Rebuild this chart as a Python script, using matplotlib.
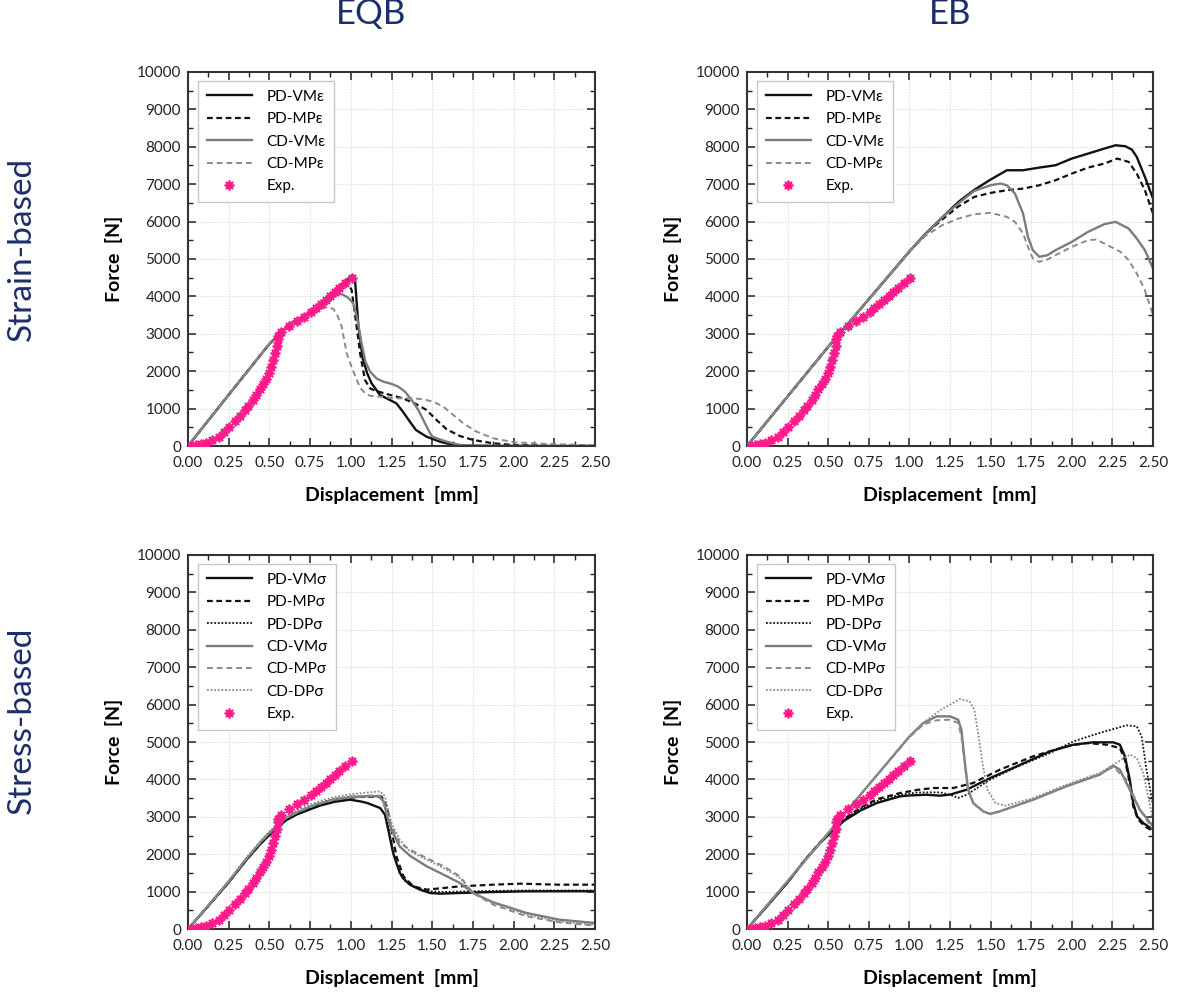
import matplotlib
matplotlib.use("Agg")
import matplotlib.pyplot as plt
from matplotlib.ticker import MultipleLocator

plt.rcParams['font.family'] = ['Lato', 'DejaVu Sans']

# ---------------- Experimental data (same in all panels) ----------------
exp_x = [0.02, 0.05, 0.08, 0.11, 0.15, 0.19, 0.22, 0.25, 0.29, 0.32,
         0.35, 0.37, 0.40, 0.42, 0.44, 0.46, 0.48, 0.50, 0.51, 0.525,
         0.535, 0.545, 0.55, 0.555, 0.57, 0.62, 0.67, 0.715, 0.755, 0.785,
         0.815, 0.845, 0.875, 0.90, 0.93, 0.965, 1.005]
exp_y = [10, 25, 45, 80, 150, 250, 370, 500, 660, 800,
         950, 1080, 1220, 1370, 1520, 1660, 1800, 1960, 2120, 2300,
         2480, 2680, 2850, 2950, 3040, 3220, 3330, 3460, 3590, 3690,
         3790, 3900, 4020, 4120, 4230, 4350, 4490]

# ---------------- EQB, strain-based ----------------
eqb_eps_pdvm_x = [0, 0.25, 0.5, 0.63, 0.75, 0.85, 0.95, 1.0, 1.012, 1.026,
                  1.047, 1.073, 1.1, 1.128, 1.179, 1.24, 1.28, 1.32, 1.363, 1.4,
                  1.465, 1.547, 1.63, 1.75, 2.0, 2.5]
eqb_eps_pdvm_y = [0, 1370, 2730, 3280, 3560, 3920, 4330, 4545, 4555, 4440,
                  3190, 2350, 1950, 1676, 1364, 1230, 1140, 918, 650, 428,
                  250, 116, 27, 5, 0, 0]
eqb_eps_pdmp_x = [0, 0.25, 0.5, 0.63, 0.75, 0.85, 0.93, 0.965, 0.99, 1.005,
                  1.02, 1.036, 1.057, 1.087, 1.118, 1.15, 1.22, 1.32, 1.4, 1.465,
                  1.527, 1.589, 1.67, 1.753, 1.876, 2.0, 2.2, 2.5]
eqb_eps_pdmp_y = [0, 1370, 2730, 3280, 3560, 3900, 4210, 4300, 4290, 4171,
                  3700, 3190, 2478, 1765, 1540, 1480, 1390, 1275, 1123, 963,
                  695, 446, 267, 160, 71, 27, 10, 0]
eqb_eps_cdvm_x = [0, 0.25, 0.5, 0.63, 0.75, 0.85, 0.913, 0.95, 0.985, 1.015,
                  1.04, 1.066, 1.09, 1.12, 1.16, 1.2, 1.252, 1.292, 1.333, 1.374,
                  1.415, 1.466, 1.497, 1.527, 1.589, 1.671, 1.8, 2.5]
eqb_eps_cdvm_y = [0, 1370, 2730, 3280, 3550, 3860, 4083, 4050, 3960, 3815,
                  3400, 2750, 2250, 1980, 1800, 1720, 1658, 1586, 1453, 1230,
                  963, 517, 267, 205, 116, 27, 5, 0]
eqb_eps_cdmp_x = [0, 0.25, 0.5, 0.63, 0.75, 0.8, 0.862, 0.89, 0.913, 0.944,
                  0.975, 1.01, 1.057, 1.09, 1.12, 1.18, 1.28, 1.384, 1.445, 1.507,
                  1.568, 1.63, 1.691, 1.773, 1.876, 2.0, 2.2, 2.5]
eqb_eps_cdmp_y = [0, 1370, 2730, 3280, 3540, 3650, 3725, 3670, 3548, 3190,
                  2478, 2050, 1560, 1400, 1340, 1319, 1275, 1275, 1248, 1185,
                  1052, 829, 606, 383, 205, 100, 55, 20]

# ---------------- EB, strain-based ----------------
eb_eps_pdvm_x = [0, 0.5, 1.0, 1.1, 1.2, 1.3, 1.4, 1.5, 1.6, 1.7,
                 1.8, 1.9, 2.0, 2.1, 2.2, 2.27, 2.33, 2.37, 2.4, 2.45, 2.5]
eb_eps_pdvm_y = [0, 2650, 5200, 5680, 6100, 6520, 6850, 7124, 7373, 7373,
                 7444, 7507, 7685, 7818, 7952, 8041, 8014, 7925, 7730, 7195, 6616]
eb_eps_pdmp_x = [0, 0.5, 1.0, 1.1, 1.2, 1.3, 1.4, 1.5, 1.6, 1.7,
                 1.8, 1.9, 2.0, 2.1, 2.2, 2.28, 2.35, 2.4, 2.45, 2.5]
eb_eps_pdmp_y = [0, 2650, 5200, 5680, 6050, 6400, 6661, 6768, 6839, 6883,
                 6972, 7106, 7284, 7444, 7551, 7685, 7596, 7284, 6839, 6216]
eb_eps_cdvm_x = [0, 0.5, 1.0, 1.1, 1.2, 1.3, 1.4, 1.5, 1.56, 1.6,
                 1.65, 1.7, 1.73, 1.76, 1.8, 1.85, 1.9, 2.0, 2.1, 2.2,
                 2.27, 2.35, 2.4, 2.45, 2.5]
eb_eps_cdvm_y = [0, 2650, 5200, 5680, 6100, 6480, 6821, 6972, 7017, 6972,
                 6750, 6216, 5592, 5236, 5058, 5102, 5236, 5459, 5726, 5931,
                 5993, 5815, 5548, 5236, 4746]
eb_eps_cdmp_x = [0, 0.5, 1.0, 1.1, 1.2, 1.3, 1.4, 1.5, 1.6, 1.65,
                 1.7, 1.73, 1.76, 1.8, 1.85, 1.9, 2.0, 2.1, 2.15, 2.2,
                 2.3, 2.35, 2.4, 2.45, 2.5]
eb_eps_cdmp_y = [0, 2650, 5200, 5620, 5900, 6080, 6198, 6233, 6126, 5993,
                 5681, 5325, 5014, 4924, 4987, 5102, 5325, 5503, 5521, 5414,
                 5191, 4969, 4613, 4167, 3500]

# ---------------- EQB, stress-based ----------------
eqb_sig_pdvm_x = [0, 0.125, 0.25, 0.359, 0.45, 0.502, 0.6, 0.666, 0.75, 0.81,
                  0.9, 0.994, 1.057, 1.1, 1.18, 1.21, 1.23, 1.26, 1.28, 1.302,
                  1.32, 1.363, 1.425, 1.487, 1.548, 1.67, 1.875, 2.08, 2.5]
eqb_sig_pdvm_y = [0, 620, 1250, 1850, 2300, 2520, 2900, 3057, 3200, 3298,
                  3400, 3458, 3414, 3370, 3235, 3057, 2656, 2032, 1765, 1497,
                  1364, 1185, 1052, 963, 945, 963, 989, 1007, 1010]
eqb_sig_pdmp_x = [0, 0.125, 0.25, 0.359, 0.45, 0.502, 0.6, 0.666, 0.75, 0.81,
                  0.9, 1.0, 1.057, 1.12, 1.19, 1.22, 1.25, 1.28, 1.323, 1.384,
                  1.466, 1.568, 1.67, 1.875, 2.04, 2.28, 2.5]
eqb_sig_pdmp_y = [0, 620, 1250, 1850, 2300, 2540, 2920, 3080, 3230, 3330,
                  3440, 3510, 3530, 3535, 3530, 3280, 2656, 1943, 1408, 1141,
                  1052, 1096, 1141, 1185, 1212, 1185, 1185]
eqb_sig_pddp_x = [0, 0.125, 0.25, 0.359, 0.45, 0.502, 0.6, 0.666, 0.75, 0.81,
                  0.9, 1.0, 1.1, 1.19, 1.215, 1.24, 1.27, 1.3, 1.34, 1.4,
                  1.48, 1.55, 1.67, 1.875, 2.08, 2.5]
eqb_sig_pddp_y = [0, 620, 1250, 1860, 2320, 2560, 2950, 3110, 3270, 3370,
                  3480, 3540, 3560, 3550, 3200, 2500, 1900, 1500, 1250, 1100,
                  1010, 990, 1000, 1020, 1030, 1030]
eqb_sig_cdvm_x = [0, 0.125, 0.25, 0.359, 0.45, 0.502, 0.6, 0.666, 0.75, 0.81,
                  0.9, 1.0, 1.1, 1.17, 1.2, 1.225, 1.25, 1.30, 1.363, 1.466,
                  1.57, 1.67, 1.75, 1.875, 2.08, 2.28, 2.5]
eqb_sig_cdvm_y = [0, 630, 1270, 1880, 2340, 2580, 2960, 3110, 3270, 3360,
                  3460, 3520, 3550, 3550, 3420, 3000, 2656, 2208, 1960, 1676,
                  1453, 1230, 963, 713, 428, 250, 160]
eqb_sig_cdmp_x = [0, 0.125, 0.25, 0.359, 0.45, 0.502, 0.6, 0.666, 0.75, 0.81,
                  0.9, 1.0, 1.1, 1.17, 1.2, 1.225, 1.25, 1.30, 1.363, 1.466,
                  1.57, 1.67, 1.75, 1.875, 2.08, 2.28, 2.5]
eqb_sig_cdmp_y = [0, 630, 1270, 1880, 2340, 2580, 2960, 3110, 3270, 3360,
                  3470, 3540, 3570, 3570, 3450, 3050, 2745, 2300, 2121, 1898,
                  1676, 1408, 963, 650, 339, 178, 89]
eqb_sig_cddp_x = [0, 0.125, 0.25, 0.359, 0.45, 0.502, 0.6, 0.666, 0.75, 0.81,
                  0.9, 1.0, 1.1, 1.18, 1.21, 1.235, 1.25, 1.30, 1.363, 1.466,
                  1.57, 1.67, 1.75, 1.875, 2.08, 2.28, 2.5]
eqb_sig_cddp_y = [0, 640, 1290, 1910, 2380, 2620, 3010, 3170, 3330, 3420,
                  3530, 3600, 3650, 3681, 3547, 3100, 2834, 2389, 2077, 1854,
                  1631, 1364, 963, 695, 383, 205, 116]

# ---------------- EB, stress-based ----------------
eb_sig_pdvm_x = [0, 0.125, 0.25, 0.359, 0.45, 0.502, 0.6, 0.7, 0.8, 0.942,
                 1.0, 1.1, 1.188, 1.25, 1.353, 1.497, 1.661, 1.866, 2.01, 2.13,
                 2.255, 2.296, 2.327, 2.357, 2.378, 2.402, 2.44, 2.5]
eb_sig_pdvm_y = [0, 620, 1250, 1850, 2300, 2520, 2900, 3170, 3370, 3547,
                 3570, 3590, 3565, 3592, 3725, 4037, 4349, 4750, 4929, 4991,
                 4991, 4929, 4617, 3993, 3369, 3012, 2834, 2656]
eb_sig_pdmp_x = [0, 0.125, 0.25, 0.359, 0.45, 0.502, 0.6, 0.7, 0.8, 0.942,
                 1.05, 1.147, 1.27, 1.393, 1.557, 1.762, 1.967, 2.09, 2.213, 2.296,
                 2.327, 2.357, 2.378, 2.409, 2.45, 2.5]
eb_sig_pdmp_y = [0, 620, 1250, 1860, 2320, 2550, 2950, 3250, 3470, 3636,
                 3720, 3770, 3770, 3904, 4260, 4617, 4884, 4973, 4929, 4840,
                 4528, 3904, 3280, 2923, 2745, 2611]
eb_sig_pddp_x = [0, 0.125, 0.25, 0.359, 0.45, 0.502, 0.6, 0.7, 0.8, 0.942,
                 1.05, 1.188, 1.25, 1.30, 1.353, 1.497, 1.661, 1.866, 2.01, 2.17,
                 2.337, 2.4, 2.43, 2.46, 2.5]
eb_sig_pddp_y = [0, 620, 1250, 1860, 2320, 2540, 2930, 3220, 3420, 3592,
                 3650, 3654, 3592, 3503, 3592, 3993, 4332, 4706, 5018, 5241,
                 5446, 5419, 5152, 4260, 3300]
eb_sig_cdvm_x = [0, 0.25, 0.5, 0.75, 1.0, 1.086, 1.168, 1.25, 1.30, 1.32,
                 1.342, 1.362, 1.393, 1.455, 1.497, 1.557, 1.763, 1.967, 2.172, 2.255,
                 2.296, 2.357, 2.419, 2.5]
eb_sig_cdvm_y = [0, 1280, 2565, 3856, 5147, 5508, 5686, 5686, 5597, 5330,
                 4439, 3725, 3369, 3146, 3075, 3146, 3458, 3815, 4127, 4367,
                 4260, 3725, 3191, 2745]
eb_sig_cdmp_x = [0, 0.25, 0.5, 0.75, 1.0, 1.086, 1.168, 1.25, 1.30, 1.32,
                 1.342, 1.362, 1.393, 1.455, 1.497, 1.557, 1.763, 1.967, 2.172, 2.255,
                 2.337, 2.419, 2.5]
eb_sig_cdmp_y = [0, 1280, 2565, 3850, 5130, 5470, 5580, 5597, 5508, 5152,
                 4349, 3700, 3350, 3140, 3080, 3150, 3470, 3830, 4150, 4332,
                 3993, 3191, 2656]
eb_sig_cddp_x = [0, 0.25, 0.5, 0.75, 1.0, 1.1, 1.2, 1.25, 1.31, 1.37,
                 1.40, 1.42, 1.45, 1.48, 1.53, 1.59, 1.763, 1.967, 2.172, 2.357,
                 2.4, 2.44, 2.47, 2.5]
eb_sig_cddp_y = [0, 1280, 2565, 3856, 5147, 5560, 5880, 5998, 6150, 6087,
                 5864, 5330, 4439, 3725, 3369, 3298, 3503, 3859, 4171, 4661,
                 4572, 4171, 3547, 2923]

# ---------------- text ----------------
col_titles = ["EQB", "EB"]
row_titles = ["Strain-based", "Stress-based"]
x_label = "Displacement  [mm]"
y_label = "Force  [N]"
x_ticks = [0.00, 0.25, 0.50, 0.75, 1.00, 1.25, 1.50, 1.75, 2.00, 2.25, 2.50]
y_ticks = [0, 1000, 2000, 3000, 4000, 5000, 6000, 7000, 8000, 9000, 10000]

strain_labels = ["PD-VM\u03b5", "PD-MP\u03b5", "CD-VM\u03b5", "CD-MP\u03b5"]
stress_labels = ["PD-VM\u03c3", "PD-MP\u03c3", "PD-DP\u03c3",
                 "CD-VM\u03c3", "CD-MP\u03c3", "CD-DP\u03c3"]

BLACK = '#111111'
GRAY = '#7c7c7c'
GRAY2 = '#8a8a8a'
PINK = '#ff1a8c'
NAVY = '#1c2d6b'

styles = {
    'PD-VM': dict(color=BLACK, lw=1.7, ls='-'),
    'PD-MP': dict(color=BLACK, lw=1.6, ls=(0, (2.6, 1.6))),
    'PD-DP': dict(color=BLACK, lw=1.3, ls=(0, (1, 1))),
    'CD-VM': dict(color=GRAY, lw=1.7, ls='-'),
    'CD-MP': dict(color=GRAY2, lw=1.4, ls=(0, (3, 2))),
    'CD-DP': dict(color=GRAY2, lw=1.3, ls=(0, (1, 1))),
}

fig = plt.figure(figsize=(11.84, 9.96), dpi=100)
W, H = 1184, 996

def make_ax(left_px, top_px, right_px, bottom_px):
    return fig.add_axes([left_px / W, 1 - bottom_px / H,
                         (right_px - left_px) / W, (bottom_px - top_px) / H])

def style_ax(ax):
    ax.set_xlim(0, 2.5)
    ax.set_ylim(0, 10000)
    ax.set_xticks(x_ticks)
    ax.set_xticklabels([f"{v:.2f}" for v in x_ticks])
    ax.set_yticks(y_ticks)
    ax.set_yticklabels([str(v) for v in y_ticks])
    ax.xaxis.set_minor_locator(MultipleLocator(0.125))
    ax.yaxis.set_minor_locator(MultipleLocator(500))
    ax.tick_params(which='both', direction='in', top=True, right=True,
                   labelsize=11, colors='#222222')
    ax.tick_params(which='major', length=6, width=1.1)
    ax.tick_params(which='minor', length=3.5, width=1.0)
    ax.tick_params(axis='x', pad=7)
    ax.tick_params(axis='y', pad=5)
    for sp in ax.spines.values():
        sp.set_linewidth(1.5)
        sp.set_color('#333333')
    ax.grid(True, which='major', color='#dcdcdc', linestyle=(0, (1.5, 1.5)), lw=0.7)
    ax.set_axisbelow(True)
    ax.set_xlabel(x_label, fontsize=14, fontweight='bold', labelpad=12)
    ax.set_ylabel(y_label, fontsize=14, fontweight='bold', labelpad=10)

def add_exp(ax):
    ax.plot(exp_x, exp_y, linestyle='none', marker=(8, 2, 0), markersize=7,
            markeredgewidth=1.3, color=PINK, label='Exp.', zorder=6)

def add_legend(ax):
    leg = ax.legend(loc='upper left', bbox_to_anchor=(0.025, 0.975),
                    borderaxespad=0, fontsize=11, handlelength=3.0,
                    handletextpad=0.9, labelspacing=0.55, borderpad=0.55,
                    fancybox=False, framealpha=1)
    leg.get_frame().set_edgecolor('#c8c8c8')
    leg.get_frame().set_linewidth(1.0)

# Panel positions in pixels (left, top, right, bottom)
ax1 = make_ax(188, 72, 595, 446)
ax2 = make_ax(747, 72, 1153, 446)
ax3 = make_ax(188, 555, 595, 929)
ax4 = make_ax(747, 555, 1153, 929)

# Strain-based EQB (later series drawn on top)
ax1.plot(eqb_eps_pdvm_x, eqb_eps_pdvm_y, label=strain_labels[0], **styles['PD-VM'])
ax1.plot(eqb_eps_pdmp_x, eqb_eps_pdmp_y, label=strain_labels[1], **styles['PD-MP'])
ax1.plot(eqb_eps_cdvm_x, eqb_eps_cdvm_y, label=strain_labels[2], **styles['CD-VM'])
ax1.plot(eqb_eps_cdmp_x, eqb_eps_cdmp_y, label=strain_labels[3], **styles['CD-MP'])
add_exp(ax1)

# Strain-based EB
ax2.plot(eb_eps_pdvm_x, eb_eps_pdvm_y, label=strain_labels[0], **styles['PD-VM'])
ax2.plot(eb_eps_pdmp_x, eb_eps_pdmp_y, label=strain_labels[1], **styles['PD-MP'])
ax2.plot(eb_eps_cdvm_x, eb_eps_cdvm_y, label=strain_labels[2], **styles['CD-VM'])
ax2.plot(eb_eps_cdmp_x, eb_eps_cdmp_y, label=strain_labels[3], **styles['CD-MP'])
add_exp(ax2)

# Stress-based EQB
ax3.plot(eqb_sig_pdvm_x, eqb_sig_pdvm_y, label=stress_labels[0], **styles['PD-VM'])
ax3.plot(eqb_sig_pdmp_x, eqb_sig_pdmp_y, label=stress_labels[1], **styles['PD-MP'])
ax3.plot(eqb_sig_pddp_x, eqb_sig_pddp_y, label=stress_labels[2], **styles['PD-DP'])
ax3.plot(eqb_sig_cdvm_x, eqb_sig_cdvm_y, label=stress_labels[3], **styles['CD-VM'])
ax3.plot(eqb_sig_cdmp_x, eqb_sig_cdmp_y, label=stress_labels[4], **styles['CD-MP'])
ax3.plot(eqb_sig_cddp_x, eqb_sig_cddp_y, label=stress_labels[5], **styles['CD-DP'])
add_exp(ax3)

# Stress-based EB
ax4.plot(eb_sig_pdvm_x, eb_sig_pdvm_y, label=stress_labels[0], **styles['PD-VM'])
ax4.plot(eb_sig_pdmp_x, eb_sig_pdmp_y, label=stress_labels[1], **styles['PD-MP'])
ax4.plot(eb_sig_pddp_x, eb_sig_pddp_y, label=stress_labels[2], **styles['PD-DP'])
ax4.plot(eb_sig_cdvm_x, eb_sig_cdvm_y, label=stress_labels[3], **styles['CD-VM'])
ax4.plot(eb_sig_cdmp_x, eb_sig_cdmp_y, label=stress_labels[4], **styles['CD-MP'])
ax4.plot(eb_sig_cddp_x, eb_sig_cddp_y, label=stress_labels[5], **styles['CD-DP'])
add_exp(ax4)

for ax in (ax1, ax2, ax3, ax4):
    style_ax(ax)
    add_legend(ax)

# Column and row titles
fig.text(371 / W, 1 - 14 / H, col_titles[0], ha='center', va='center',
         fontsize=25, color=NAVY)
fig.text(950 / W, 1 - 14 / H, col_titles[1], ha='center', va='center',
         fontsize=25, color=NAVY)
fig.text(22 / W, 1 - 249 / H, row_titles[0], ha='center', va='center',
         rotation=90, fontsize=24, color=NAVY)
fig.text(22 / W, 1 - 720 / H, row_titles[1], ha='center', va='center',
         rotation=90, fontsize=24, color=NAVY)

fig.savefig('out.png', dpi=100)
